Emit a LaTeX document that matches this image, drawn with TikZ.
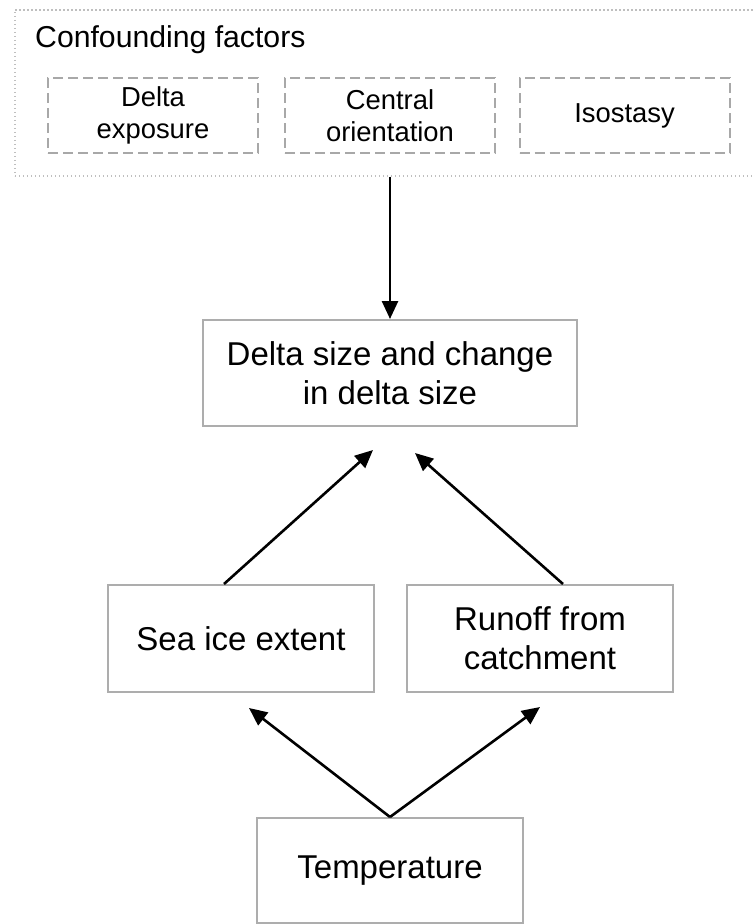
\documentclass[tikz,border=0pt]{standalone}
\usepackage{fontspec}
\setmainfont{Liberation Sans}
\usetikzlibrary{arrows.meta}

\tikzset{
	box/.style={draw=black!32, line width=2pt, inner sep=0pt, align=center, font=\fontsize{33}{39}\selectfont},
	factor/.style={draw=black!34, line width=2pt, dash pattern=on 10pt off 5pt, inner sep=0pt, minimum width=210, minimum height=75, align=center, font=\fontsize{27.4}{32}\selectfont},
	dots/.style={draw=black!25, line width=1.6pt, dash pattern=on 1.6pt off 2.4pt, inner sep=0pt},
	arr/.style={draw, line width=2.6pt, -{Triangle[length=18pt,width=16pt]}}
}

\begin{document}
\begin{tikzpicture}[x=1pt, y=-1pt]
\useasboundingbox (0,0) rectangle (755,924);
% confounding factors
\node[dots, anchor=north west, minimum width=746, minimum height=166] (conf) at (14,9) {};
\node[anchor=base west, inner sep=0pt, font=\fontsize{30.2}{36}\selectfont] (conftitle) at (35,47) {Confounding factors};
\node[factor] (expo) at (153,115.5) {Delta\\exposure};
\node[factor] (orient) at (390,115.5) {Central\\orientation};
\node[factor] (iso) at (624.5,115.5) {Isostasy};
% main boxes
\node[box, minimum width=374, minimum height=106] (delta) at (390,373) {Delta size and change\\in delta size};
\node[box, minimum width=266, minimum height=107] (sea) at (241,638.5) {Sea ice extent};
\node[box, minimum width=266, minimum height=107] (run) at (540,638.5) {Runoff from\\catchment};
\node[box, minimum width=266, minimum height=105] (temp) at (390,870.5) {Temperature};
\coordinate (tipsea) at ([shift={(-17,23)}]delta.south);
\coordinate (tiprun) at ([shift={(25,26)}]delta.south);
\coordinate (tipice) at ([shift={(8,15)}]sea.south);
\coordinate (tipcat) at ([shift={(0,14)}]run.south);
\path (conf.south -| delta.north) edge[arr] (delta);
\path ([xshift=-17pt]sea.north) edge[arr] (tipsea);
\path ([xshift=23pt]run.north) edge[arr] (tiprun);
\path (temp.north) edge[arr] (tipice);
\path (temp.north) edge[arr] (tipcat);
\end{tikzpicture}
\end{document}
